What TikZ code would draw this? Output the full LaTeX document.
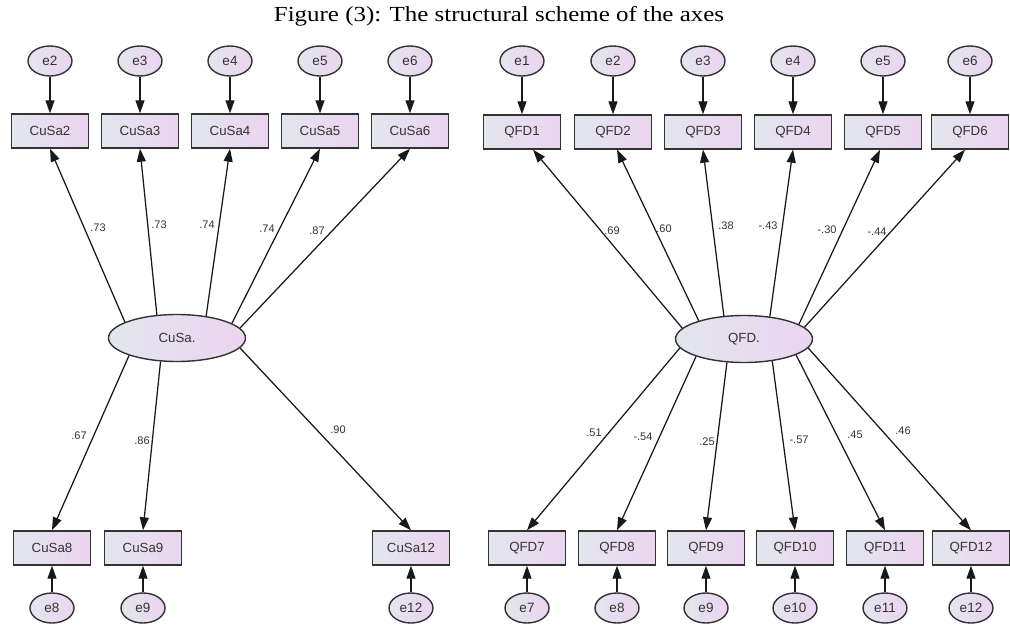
\documentclass[tikz,border=0pt]{standalone}
\usepackage{fontspec}
\setmainfont{Liberation Sans}
\newfontfamily\titlefont{Liberation Serif}
\usepackage{graphicx}
\usepackage{tikz}
\usetikzlibrary{arrows.meta,positioning,shapes.geometric}

\definecolor{fillL}{RGB}{226,230,238}
\definecolor{fillR}{RGB}{236,212,240}
\definecolor{edgegray}{RGB}{50,50,50}

\begin{document}
\begin{tikzpicture}[x=1pt,y=-1pt,
  obs/.style={rectangle,draw=edgegray,line width=1.4pt,left color=fillL,right color=fillR,
              minimum width=77pt,minimum height=34pt,inner sep=0pt,
              font=\fontsize{13.3}{15}\selectfont,text=black!80},
  err/.style={ellipse,draw=edgegray,line width=1.4pt,left color=fillL,right color=fillR,
              minimum width=44pt,minimum height=30pt,inner sep=0pt,
              font=\fontsize{13.5}{15}\selectfont,text=black!80},
  lat/.style={ellipse,draw=edgegray,line width=1.4pt,left color=fillL,right color=fillR,
              minimum width=137pt,minimum height=47pt,inner sep=0pt,
              font=\fontsize{13.3}{15}\selectfont,text=black!80},
  path/.style={-{Triangle[length=13pt,width=9pt]},line width=1.25pt,black!90},
  coef/.style={font=\fontsize{11}{13}\selectfont,text=black!80,inner sep=0pt},
]
  \useasboundingbox (0,0) rectangle (1010,626);

  % Title
  \node[font=\titlefont\fontsize{21.5}{24}\selectfont] (title) at (499,16)
    {\scalebox{1.16}[1]{Figure (3): The structural scheme of the axes}};

  % CuSa. latent variable
  \node[lat] (cusa) at (177,338) {CuSa.};

  % CuSa indicators (top row)
  \node[obs] (c2) at (50,131)  {CuSa2};
  \node[obs] (c3) at (140,131) {CuSa3};
  \node[obs] (c4) at (230,131) {CuSa4};
  \node[obs] (c5) at (320,131) {CuSa5};
  \node[obs] (c6) at (410,131) {CuSa6};

  % CuSa indicators (bottom row)
  \node[obs] (c8)  at (52,548)  {CuSa8};
  \node[obs] (c9)  at (143,548) {CuSa9};
  \node[obs] (c12) at (411,548) {CuSa12};

  % CuSa error terms
  \node[err] (ec2)  at (50,61)   {e2};
  \node[err] (ec3)  at (140,61)  {e3};
  \node[err] (ec4)  at (230,61)  {e4};
  \node[err] (ec5)  at (320,61)  {e5};
  \node[err] (ec6)  at (410,61)  {e6};
  \node[err] (ec8)  at (52,608)  {e8};
  \node[err] (ec9)  at (143,608) {e9};
  \node[err] (ec12) at (411,608) {e12};

  % QFD. latent variable
  \node[lat] (qfd) at (744,339) {QFD.};

  % QFD indicators (top row)
  \node[obs] (q1) at (522,132) {QFD1};
  \node[obs] (q2) at (613,132) {QFD2};
  \node[obs] (q3) at (703,132) {QFD3};
  \node[obs] (q4) at (793,132) {QFD4};
  \node[obs] (q5) at (883,132) {QFD5};
  \node[obs] (q6) at (970,132) {QFD6};

  % QFD indicators (bottom row)
  \node[obs] (q7)  at (527,548) {QFD7};
  \node[obs] (q8)  at (617,548) {QFD8};
  \node[obs] (q9)  at (706,548) {QFD9};
  \node[obs] (q10) at (795,548) {QFD10};
  \node[obs] (q11) at (885,548) {QFD11};
  \node[obs] (q12) at (971,548) {QFD12};

  % QFD error terms
  \node[err] (eq1)  at (522,61)  {e1};
  \node[err] (eq2)  at (613,61)  {e2};
  \node[err] (eq3)  at (703,61)  {e3};
  \node[err] (eq4)  at (793,61)  {e4};
  \node[err] (eq5)  at (883,61)  {e5};
  \node[err] (eq6)  at (970,61)  {e6};
  \node[err] (eq7)  at (527,608) {e7};
  \node[err] (eq8)  at (617,608) {e8};
  \node[err] (eq9)  at (706,608) {e9};
  \node[err] (eq10) at (795,608) {e10};
  \node[err] (eq11) at (885,608) {e11};
  \node[err] (eq12) at (971,608) {e12};

  % Loadings CuSa.
  \draw[path] (cusa.163) -- (c2.south);
  \draw[path] (cusa.131) -- (c3.south);
  \draw[path] (cusa.37)  -- (c4.south);
  \draw[path] (cusa.15)  -- (c5.south);
  \draw[path] (cusa.9)   -- (c6.south);
  \draw[path] (cusa.200) -- (c8.north);
  \draw[path] (cusa.235) -- (c9.north);
  \draw[path] (cusa.351) -- (c12.north);

  % Loadings QFD.
  \draw[path] (qfd.170) -- ([xshift=11pt]q1.south);
  \draw[path] (qfd.158) -- ([xshift=4pt]q2.south);
  \draw[path] (qfd.131) -- (q3.south);
  \draw[path] (qfd.41)  -- (q4.south);
  \draw[path] (qfd.15)  -- ([xshift=-3pt]q5.south);
  \draw[path] (qfd.11)  -- ([xshift=-5pt]q6.south);
  \draw[path] (qfd.188) -- (q7.north);
  \draw[path] (qfd.200) -- (q8.north);
  \draw[path] (qfd.234) -- (q9.north);
  \draw[path] (qfd.322) -- (q10.north);
  \draw[path] (qfd.343) -- (q11.north);
  \draw[path] (qfd.352) -- (q12.north);

  % Error paths
  \draw[path] (ec2) -- (c2);
  \draw[path] (ec3) -- (c3);
  \draw[path] (ec4) -- (c4);
  \draw[path] (ec5) -- (c5);
  \draw[path] (ec6) -- (c6);
  \draw[path] (ec8) -- (c8);
  \draw[path] (ec9) -- (c9);
  \draw[path] (ec12) -- (c12);
  \draw[path] (eq1) -- (q1);
  \draw[path] (eq2) -- (q2);
  \draw[path] (eq3) -- (q3);
  \draw[path] (eq4) -- (q4);
  \draw[path] (eq5) -- (q5);
  \draw[path] (eq6) -- (q6);
  \draw[path] (eq7) -- (q7);
  \draw[path] (eq8) -- (q8);
  \draw[path] (eq9) -- (q9);
  \draw[path] (eq10) -- (q10);
  \draw[path] (eq11) -- (q11);
  \draw[path] (eq12) -- (q12);

  % Coefficients CuSa.
  \node[coef] (lc2)  at (98,228)  {.73};
  \node[coef] (lc3)  at (159,225) {.73};
  \node[coef] (lc4)  at (207,225) {.74};
  \node[coef] (lc5)  at (267,229) {.74};
  \node[coef] (lc6)  at (317,231) {.87};
  \node[coef] (lc8)  at (79,436)  {.67};
  \node[coef] (lc9)  at (142,441) {.86};
  \node[coef] (lc12) at (338,430) {.90};

  % Coefficients QFD.
  \node[coef] (lq1)  at (612,231) {.69};
  \node[coef] (lq2)  at (664,229) {.60};
  \node[coef] (lq3)  at (726,226) {.38};
  \node[coef] (lq4)  at (768,226) {-.43};
  \node[coef] (lq5)  at (827,230) {-.30};
  \node[coef] (lq6)  at (877,232) {-.44};
  \node[coef] (lq7)  at (594,433) {.51};
  \node[coef] (lq8)  at (643,437) {-.54};
  \node[coef] (lq9)  at (707,442) {.25};
  \node[coef] (lq10) at (799,440) {-.57};
  \node[coef] (lq11) at (855,435) {.45};
  \node[coef] (lq12) at (903,431) {.46};
\end{tikzpicture}
\end{document}
